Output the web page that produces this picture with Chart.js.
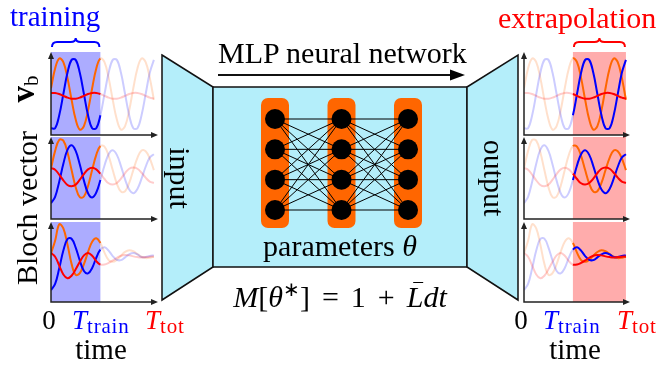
<!DOCTYPE html>
<html>
<head>
<meta charset="utf-8">
<script src="https://cdn.jsdelivr.net/npm/chart.js@4.4.1/dist/chart.umd.min.js"></script>
<style>
  html, body { margin: 0; padding: 0; background: #fff; }
  #wrap { position: relative; width: 660px; height: 365px; overflow: hidden;
          font-family: "Liberation Serif", "Times New Roman", serif; color: #000; }
  #wrap canvas { position: absolute; }
  .t { position: absolute; white-space: nowrap; line-height: 1; }
  .c { transform: translateX(-50%); }
  .sub { font-size: 21px; vertical-align: -4px; letter-spacing: 0.8px; }
  .op { margin: 0 0.4em; }
  .bar { position: relative; }
  .bar::after { content: ''; position: absolute; left: 0.22em; right: 0.02em; top: 0.08em; border-top: 1.5px solid #000; }
</style>
</head>
<body>
<div id="wrap">
  <canvas id="main" width="660" height="365" style="left:0;top:0"></canvas>
  <div id="plots"></div>

  <div class="t" style="left:10px;top:2px;font-size:29px;color:#0000ff">training</div>
  <div class="t" style="left:498px;top:3px;font-size:30px;color:#ff0000">extrapolation</div>
  <div class="t" style="left:218px;top:38px;font-size:30px">MLP neural network</div>
  <div class="t c" style="left:340px;top:231px;font-size:30px">parameters <i>θ</i></div>
  <div class="t c" style="left:340px;top:279px;font-size:30px"><i>M</i>[<i>θ</i><sup style="font-size:20px">∗</sup>]<span class="op">=</span>1<span class="op">+</span><i class="bar">L</i><i>dt</i></div>

  <div class="t" style="left:24px;top:89px;font-size:33px;transform:translate(-50%,-50%) rotate(-90deg)"><b>v</b><span style="font-size:21px;vertical-align:-4px">b</span></div>
  <div class="t" style="left:27px;top:208px;font-size:30px;transform:translate(-50%,-50%) rotate(-90deg)">Bloch vector</div>
  <div class="t" style="left:180px;top:178px;font-size:30px;transform:translate(-50%,-50%) rotate(90deg)">input</div>
  <div class="t" style="left:494px;top:178px;font-size:30px;transform:translate(-50%,-50%) rotate(90deg)">output</div>

  <div class="t c" style="left:49px;top:307px;font-size:27px">0</div>
  <div class="t" style="left:72px;top:307px;font-size:27px;color:#0000ff"><i>T</i><span class="sub">train</span></div>
  <div class="t" style="left:145px;top:307px;font-size:27px;color:#ff0000"><i>T</i><span class="sub">tot</span></div>
  <div class="t c" style="left:101px;top:335px;font-size:29px">time</div>

  <div class="t c" style="left:521px;top:307px;font-size:27px">0</div>
  <div class="t" style="left:543px;top:307px;font-size:27px;color:#0000ff"><i>T</i><span class="sub">train</span></div>
  <div class="t" style="left:617px;top:307px;font-size:27px;color:#ff0000"><i>T</i><span class="sub">tot</span></div>
  <div class="t c" style="left:575px;top:335px;font-size:29px">time</div>
</div>

<script>
// time axis (0 .. T_tot) and the end of the training window
var times = [0, 0.04, 0.08, 0.12, 0.16, 0.2, 0.24, 0.28, 0.32, 0.36, 0.4, 0.44, 0.48,
             0.52, 0.56, 0.6, 0.64, 0.68, 0.72, 0.76, 0.8, 0.84, 0.88, 0.92, 0.96, 1.0];
var tTrain = 0.48;

// top panel (v_b, no damping)
var topOrange = [0.16, 0.71, 0.99, 0.89, 0.45, -0.16, -0.71, -0.99, -0.89, -0.45, 0.16, 0.71, 0.99,
                 0.89, 0.45, -0.16, -0.71, -0.99, -0.89, -0.45, 0.16, 0.71, 0.99, 0.89, 0.45, -0.16];
var topBlue = [-0.95, -0.95, -0.59, 0, 0.59, 0.95, 0.95, 0.59, 0, -0.59, -0.95, -0.95, -0.59,
               0, 0.59, 0.95, 0.95, 0.59, 0, -0.59, -0.95, -0.95, -0.59, 0, 0.59, 0.95];
var topRed = [0.03, 0.03, 0, -0.05, -0.1, -0.13, -0.13, -0.1, -0.05, 0, 0.03, 0.03, 0,
              -0.05, -0.1, -0.13, -0.13, -0.1, -0.05, 0, 0.03, 0.03, 0, -0.05, -0.1, -0.13];

// middle panel (weak damping)
var midOrange = [0.05, 0.58, 0.91, 0.89, 0.54, 0, -0.52, -0.82, -0.8, -0.48, 0, 0.46, 0.73,
                 0.71, 0.43, 0, -0.41, -0.65, -0.64, -0.39, 0, 0.37, 0.59, 0.57, 0.35, 0];
var midBlue = [-1.0, -0.81, -0.35, 0.19, 0.61, 0.75, 0.58, 0.17, -0.32, -0.7, -0.83, -0.68, -0.3,
               0.14, 0.48, 0.6, 0.46, 0.12, -0.28, -0.59, -0.7, -0.57, -0.26, 0.1, 0.38, 0.48];
var midRed = [0.06, 0.01, -0.14, -0.31, -0.45, -0.49, -0.44, -0.29, -0.12, 0.02, 0.07, 0.02, -0.11,
              -0.27, -0.4, -0.44, -0.39, -0.26, -0.09, 0.04, 0.08, 0.04, -0.08, -0.23, -0.35, -0.39];

// bottom panel (strong damping)
var lowOrange = [0.08, 0.45, 0.93, 0.81, 0.34, -0.23, -0.55, -0.5, -0.24, 0.12, 0.42, 0.52, 0.38,
                 0.1, -0.12, -0.17, -0.11, 0.01, 0.12, 0.17, 0.14, 0.06, -0.02, -0.06, -0.05, -0.02];
var lowBlue = [-1.0, -0.82, -0.36, 0.16, 0.5, 0.51, 0.25, -0.13, -0.44, -0.51, -0.35, -0.05, 0.19,
               0.26, 0.16, 0, -0.11, -0.12, -0.04, 0.05, 0.09, 0.05, -0.03, -0.03, 0, 0.02];
var lowRed = [0.09, -0.02, -0.28, -0.54, -0.65, -0.58, -0.39, -0.17, 0.02, 0.09, 0.01, -0.15, -0.25,
              -0.25, -0.2, -0.13, -0.05, 0.01, 0.03, 0.02, -0.01, -0.03, -0.04, -0.03, -0.02, -0.01];

// network drawn in the middle
var layers = [0, 1, 2];
var neurons = [0, 1, 2, 3];

var colOrange = {solid: '#ff6600', faded: 'rgba(255,102,0,0.2)'};
var colBlue = {solid: '#0000ff', faded: 'rgba(0,0,255,0.2)'};
var colRed = {solid: '#ff0000', faded: 'rgba(255,0,0,0.2)'};

var rows = [
  {top: 52, bottom: 135, min: -1.14, max: 1.17, red: topRed, blue: topBlue, orange: topOrange},
  {top: 137, bottom: 219, min: -1.48, max: 1.0, red: midRed, blue: midBlue, orange: midOrange},
  {top: 222, bottom: 302, min: -1.35, max: 1.0, red: lowRed, blue: lowBlue, orange: lowOrange}
];
var sides = [
  {left: true, x0: 51, x1: 158, shade: 'rgba(90,90,255,0.5)', brace: '#0000ff'},
  {left: false, x0: 524, x1: 630, shade: 'rgba(255,90,90,0.5)', brace: '#ff0000'}
];

var panelPlugin = {
  id: 'panel',
  beforeDatasetsDraw: function(chart, args, opts) {
    var a = chart.chartArea, x = chart.scales.x, ctx = chart.ctx;
    var from = opts.left ? times[0] : tTrain;
    var to = opts.left ? tTrain : times[times.length - 1];
    var p0 = x.getPixelForValue(from), p1 = x.getPixelForValue(to);
    ctx.save();
    ctx.fillStyle = opts.shade;
    ctx.fillRect(p0, a.top, p1 - p0, a.bottom - a.top);
    ctx.restore();
  },
  afterDatasetsDraw: function(chart, args, opts) {
    var a = chart.chartArea, x = chart.scales.x, ctx = chart.ctx;
    ctx.save();
    ctx.strokeStyle = '#222';
    ctx.fillStyle = '#222';
    ctx.lineWidth = 1.5;
    ctx.beginPath();
    ctx.moveTo(a.left, a.top + 5);
    ctx.lineTo(a.left, a.bottom);
    ctx.lineTo(a.right - 5, a.bottom);
    ctx.stroke();
    ctx.beginPath();
    ctx.moveTo(a.left, a.top);
    ctx.lineTo(a.left - 3, a.top + 7);
    ctx.lineTo(a.left + 3, a.top + 7);
    ctx.closePath();
    ctx.moveTo(a.right, a.bottom);
    ctx.lineTo(a.right - 7, a.bottom - 3);
    ctx.lineTo(a.right - 7, a.bottom + 3);
    ctx.closePath();
    ctx.fill();

    if (opts.first) {
      // curly brace over the highlighted window
      var from = opts.left ? times[0] : tTrain;
      var to = opts.left ? tTrain : times[times.length - 1];
      var L = x.getPixelForValue(from) + 1, R = x.getPixelForValue(to) - 1, M = (L + R) / 2;
      var yE = a.top - 5, yB = a.top - 10, yT = a.top - 14;
      ctx.strokeStyle = opts.brace;
      ctx.lineWidth = 2;
      ctx.beginPath();
      ctx.moveTo(L, yE);
      ctx.quadraticCurveTo(L, yB, L + 5, yB);
      ctx.lineTo(M - 5, yB);
      ctx.quadraticCurveTo(M, yB, M, yT);
      ctx.quadraticCurveTo(M, yB, M + 5, yB);
      ctx.lineTo(R - 5, yB);
      ctx.quadraticCurveTo(R, yB, R, yE);
      ctx.stroke();
    }
    ctx.restore();
  }
};

function series(values, col, left) {
  return {
    data: times.map(function(t, i) { return {x: t, y: values[i]}; }),
    borderColor: col.solid,
    borderWidth: 2,
    pointRadius: 0,
    tension: 0.4,
    fill: false,
    segment: {
      borderColor: function(c) {
        var solid = left ? c.p1.parsed.x <= tTrain + 1e-6 : c.p0.parsed.x >= tTrain - 1e-6;
        return solid ? col.solid : col.faded;
      }
    }
  };
}

function makePanel(row, side, first) {
  var padTop = first ? 16 : 4, pad = 4;
  var cv = document.createElement('canvas');
  var w = side.x1 - side.x0 + 2 * pad, h = row.bottom - row.top + padTop + pad;
  cv.width = w;
  cv.height = h;
  cv.style.left = (side.x0 - pad) + 'px';
  cv.style.top = (row.top - padTop) + 'px';
  cv.style.width = w + 'px';
  cv.style.height = h + 'px';
  document.getElementById('plots').appendChild(cv);

  new Chart(cv, {
    type: 'line',
    data: {
      datasets: [
        series(row.red, colRed, side.left),
        series(row.blue, colBlue, side.left),
        series(row.orange, colOrange, side.left)
      ]
    },
    options: {
      responsive: false,
      animation: false,
      devicePixelRatio: 1,
      layout: {padding: {left: pad, right: pad, top: padTop, bottom: pad}},
      plugins: {
        legend: {display: false},
        tooltip: {enabled: false},
        panel: {left: side.left, shade: side.shade, brace: side.brace, first: first}
      },
      scales: {
        x: {type: 'linear', display: false, min: 0, max: 1.04},
        y: {type: 'linear', display: false, min: row.min, max: row.max}
      }
    },
    plugins: [panelPlugin]
  });
}

sides.forEach(function(side) {
  rows.forEach(function(row, i) { makePanel(row, side, i === 0); });
});

// ---- middle diagram: input / network / output ----
var frame = {
  input: [[162, 55], [213, 87], [213, 267], [162, 300]],
  body: [[213, 87], [467, 87], [467, 267], [213, 267]],
  output: [[467, 87], [518, 55], [518, 300], [467, 267]]
};

var diagramPlugin = {
  id: 'diagram',
  beforeDraw: function(chart) {
    var ctx = chart.ctx;
    ctx.save();
    ctx.fillStyle = '#b4eefa';
    ctx.strokeStyle = '#111';
    ctx.lineWidth = 1.5;
    ['input', 'body', 'output'].forEach(function(k) {
      var pts = frame[k];
      ctx.beginPath();
      ctx.moveTo(pts[0][0], pts[0][1]);
      for (var i = 1; i < pts.length; i++) ctx.lineTo(pts[i][0], pts[i][1]);
      ctx.closePath();
      ctx.fill();
      ctx.stroke();
    });
    // arrow under the title
    ctx.lineWidth = 2;
    ctx.beginPath();
    ctx.moveTo(218, 75);
    ctx.lineTo(452, 75);
    ctx.stroke();
    ctx.fillStyle = '#000';
    ctx.beginPath();
    ctx.moveTo(465, 75);
    ctx.lineTo(450, 69.5);
    ctx.lineTo(450, 80.5);
    ctx.closePath();
    ctx.fill();
    ctx.restore();
  },
  beforeDatasetsDraw: function(chart) {
    var ctx = chart.ctx, x = chart.scales.x, y = chart.scales.y;
    var top = y.getPixelForValue(neurons[0]) - 21;
    var bottom = y.getPixelForValue(neurons[neurons.length - 1]) + 18;
    ctx.save();
    ctx.fillStyle = '#ff6600';
    layers.forEach(function(l) {
      var px = x.getPixelForValue(l);
      ctx.beginPath();
      ctx.roundRect(px - 14, top, 28, bottom - top, 7);
      ctx.fill();
    });
    ctx.restore();
  }
};

var nodePoints = [];
layers.forEach(function(l) {
  neurons.forEach(function(n) { nodePoints.push({x: l, y: n}); });
});
var netSets = [{
  data: nodePoints, pointRadius: 10, pointHoverRadius: 10,
  pointBackgroundColor: '#000', pointBorderWidth: 0, showLine: false, clip: false
}];
for (var l = 0; l < layers.length - 1; l++) {
  neurons.forEach(function(a) {
    neurons.forEach(function(b) {
      netSets.push({
        data: [{x: layers[l], y: a}, {x: layers[l + 1], y: b}],
        showLine: true, borderColor: '#000', borderWidth: 1, pointRadius: 0, clip: false
      });
    });
  });
}

new Chart(document.getElementById('main'), {
  type: 'scatter',
  data: {datasets: netSets},
  options: {
    responsive: false,
    animation: false,
    devicePixelRatio: 1,
    layout: {padding: {left: 275, right: 252, top: 119, bottom: 155}},
    plugins: {legend: {display: false}, tooltip: {enabled: false}},
    scales: {
      x: {type: 'linear', display: false, min: 0, max: 2},
      y: {type: 'linear', display: false, min: 0, max: 3, reverse: true}
    }
  },
  plugins: [diagramPlugin]
});
</script>
</body>
</html>
